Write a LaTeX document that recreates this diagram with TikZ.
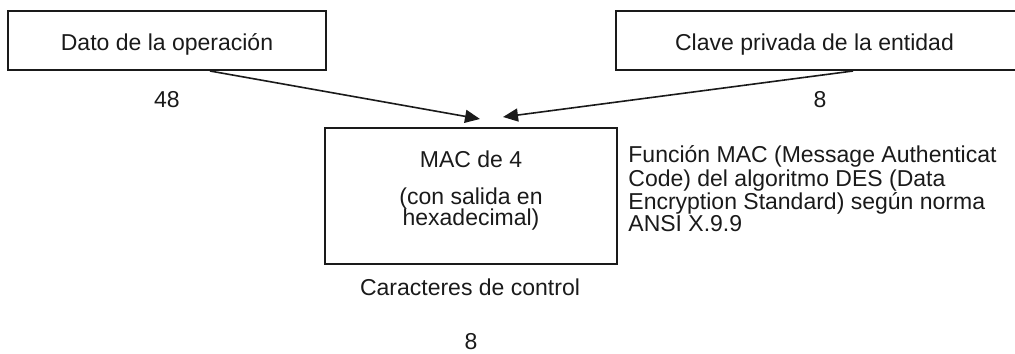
\documentclass[tikz,border=0pt]{standalone}
\usepackage{fontspec}
\setmainfont{Liberation Sans}
\usetikzlibrary{arrows.meta}
\definecolor{ink}{HTML}{1A1A1A}
\tikzset{
  box/.style={draw=ink, line width=1pt, rectangle, inner sep=0pt, text=ink},
  lbl/.style={inner sep=0pt, anchor=base, text=ink},
  arr/.style={draw=ink, line width=0.8pt, -{Triangle[length=7.5pt,width=6.5pt]}},
}
\begin{document}
\begin{tikzpicture}[x=0.5pt, y=-0.5pt, font=\fontsize{11.5pt}{10.6pt}\selectfont]
\useasboundingbox (0,0) rectangle (1015,353);
% top boxes
\node[box, minimum width=159pt, minimum height=29.5pt, text height=10.5pt, text depth=0pt] (dato) at (167,40.5) {Dato de la operación};
\node[box, minimum width=200.5pt, minimum height=29.5pt, text height=10.5pt, text depth=0pt] (clave) at (816.5,40.5) {\hspace*{-2pt}Clave privada de la entidad};
\node[lbl] (n48) at (167,107) {48};
\node[lbl] (n8a) at (820,107) {8};
% MAC box
\node[box, minimum width=146pt, minimum height=68pt] (mac) at (471,196) {};
\node[lbl] (mac1) at (471,167) {MAC de 4};
\node[lbl] (mac2) at (471,204) {(con salida en};
\node[lbl] (mac3) at (471,225) {hexadecimal)};
% description
\node[inner sep=0pt, anchor=base west, align=left, text=ink] (desc) at (628,231) {Función MAC (Message Authenticat\\Code) del algoritmo DES (Data\\Encryption Standard) según norma\\ANSI X.9.9};
\node[lbl] (car) at (470,295) {Caracteres de control};
\node[lbl] (n8b) at (471,349.5) {8};
% arrows
\coordinate (tipL) at (480,119);
\coordinate (tipR) at (503,117);
\draw[arr] ([xshift=21.5pt]dato.south) -- (tipL);
\draw[arr] ([xshift=18.25pt]clave.south) -- (tipR);
\end{tikzpicture}
\end{document}
